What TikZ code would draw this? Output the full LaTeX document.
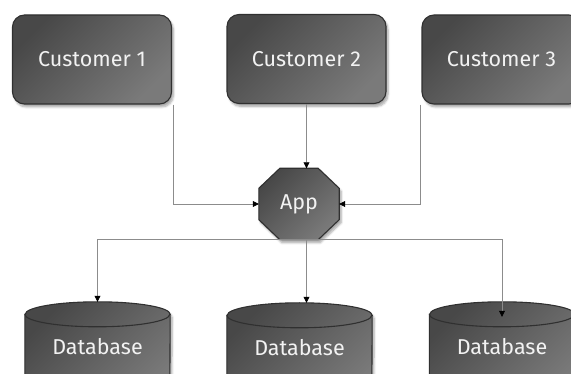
\documentclass[tikz,border=0pt]{standalone}
\usepackage{fontspec}
\setmainfont{Fira Sans}
\usetikzlibrary{arrows.meta,calc,shadows.blur,backgrounds}
\definecolor{boxdark}{HTML}{484848}
\definecolor{boxlight}{HTML}{7A7A7A}
\definecolor{edgegray}{HTML}{303030}
\definecolor{linegray}{HTML}{8C8C8C}
\definecolor{txt}{HTML}{F2F2F2}
\tikzset{
  x=1pt,y=1pt,
  boxshade/.style={top color=boxdark,bottom color=boxlight,shading angle=45,
    draw=edgegray,line width=1.1pt,
    blur shadow={shadow xshift=2pt,shadow yshift=-3pt,shadow blur steps=6,shadow opacity=35}},
  labeltext/.style={text=txt,font=\fontsize{21.5}{24}\selectfont},
  custbox/.style={boxshade,labeltext,rounded corners=12pt,minimum width=159pt,minimum height=89pt},
  appbox/.style={labeltext,minimum width=80pt,minimum height=71pt,inner sep=0pt},
  dbbox/.style={labeltext,minimum width=145pt,minimum height=90pt,inner sep=0pt},
  conn/.style={draw=linegray,line width=0.7pt,-{Triangle[length=6pt,width=6pt,color=black]}},
  rim/.style={draw=edgegray,line width=1.1pt},
}
\begin{document}
\begin{tikzpicture}
\useasboundingbox (0,0) rectangle (571,-374);
\clip (0,0) rectangle (571,-374);

\node[custbox] (c1) at (92,-59.5) {Customer 1};
\node[custbox] (c2) at (306.5,-59) {Customer 2};
\node[custbox] (c3) at (501.5,-59.5) {Customer 3};

\node[appbox] (app) at (299,-204) {};
\node[labeltext] at (app.center) {App};

\node[dbbox] (db1) at (97.5,-347) {Database};
\node[dbbox] (db2) at (299.5,-348) {Database};
\node[dbbox] (db3) at (502,-347) {Database};

\begin{scope}[on background layer]
  \path[boxshade] ($(app.north west)+(21,0)$) -- ($(app.north east)+(-21,0)$)
    -- ($(app.north east)+(0,-20)$) -- ($(app.south east)+(0,20)$)
    -- ($(app.south east)+(-21,0)$) -- ($(app.south west)+(21,0)$)
    -- ($(app.south west)+(0,20)$) -- ($(app.north west)+(0,-20)$) -- cycle;
  \foreach \d in {db1,db2,db3}{
    \path[boxshade] ($(\d.north west)+(0,-12.5)$) -- (\d.south west)
      arc[start angle=180,end angle=360,x radius=72.5pt,y radius=12.5pt]
      -- ($(\d.north east)+(0,-12.5)$)
      arc[start angle=0,end angle=180,x radius=72.5pt,y radius=12.5pt] -- cycle;
    \path[rim] ($(\d.north west)+(0,-12.5)$)
      arc[start angle=180,end angle=360,x radius=72.5pt,y radius=12.5pt];
  }
\end{scope}

\draw[conn] ($(c1.south east)+(1,0)$) |- (app.west);
\draw[conn] (c2.south) -- (c2.south |- app.north);
\draw[conn] ($(c3.south west)+(-1,0)$) |- (app.east);
\draw[conn] (c2.south |- app.south) -| (db1.north);
\draw[conn] (c2.south |- app.south) -- (c2.south |- db2.north);
\draw[conn] (c2.south |- app.south) -| ($(db3.north)+(0,-15)$);
\end{tikzpicture}
\end{document}
